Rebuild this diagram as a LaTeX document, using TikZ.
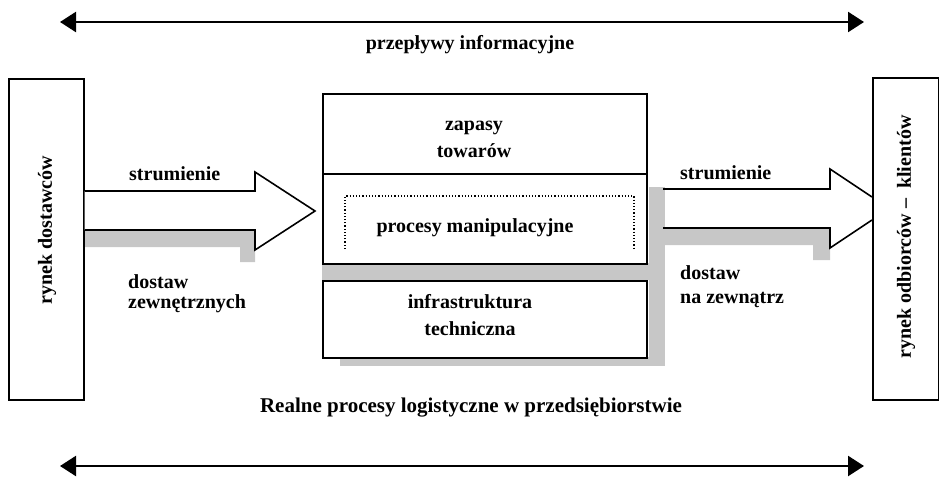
\documentclass[tikz,border=0pt]{standalone}
\usepackage{fontspec}
\setmainfont{Liberation Serif}
\usetikzlibrary{arrows.meta}
\begin{document}
\begin{tikzpicture}[x=1pt,y=-1pt,
  lbl/.style={font=\fontsize{20}{27}\selectfont\bfseries, inner sep=0pt},
  box/.style={draw, line width=1.6pt, inner sep=0pt},
  shade/.style={fill=black!22},
  bigarrow/.style={draw, line width=1.6pt, line join=miter},
  info/.style={line width=2.4pt, {Triangle[length=16pt,width=20pt]}-{Triangle[length=16pt,width=20pt]}}]
\useasboundingbox (0,0) rectangle (939,477);

% information flows
\coordinate (iL) at (60,22);
\coordinate (iR) at (864,22);
\draw[info] (iL) -- (iR);
\node[lbl] (info) at (470,45) {przepływy informacyjne};

% shadows
\fill[shade] (649,187) rectangle (665,366);
\fill[shade] (322,263) rectangle (665,280);
\fill[shade] (340,357) rectangle (665,366);
\fill[shade] (83,230) -- (255,230) -- (255,262) -- (240,262) -- (240,247) -- (83,247) -- cycle;
\fill[shade] (663,228) -- (830,228) -- (830,260) -- (813,260) -- (813,245) -- (663,245) -- cycle;

% side boxes
\node[box, minimum width=75pt, minimum height=321pt, anchor=north west] (lbox) at (8,78) {};
\node[lbl, rotate=90] (ltxt) at (47,230) {rynek dostawców};
\node[box, minimum width=66pt, minimum height=322pt, anchor=north west] (rbox) at (872,77) {};
\node[lbl, rotate=90] (rtxt) at (906,237) {rynek odbiorców –\ \ klientów};

% centre boxes
\node[box, fill=white, minimum width=324pt, minimum height=80pt, anchor=north west] (ctop) at (322,93) {};
\node[box, fill=white, minimum width=324pt, minimum height=90pt, anchor=north west] (cmid) at (322,173) {};
\node[box, fill=white, minimum width=324pt, minimum height=77pt, anchor=north west] (cbot) at (322,280) {};
\node[lbl, align=center] (ttop) at (474,139) {zapasy\\towarów};
\draw[dotted, line width=1.2pt] (345,249) |- (634,196) -- (634,249);
\node[lbl] (tmid) at (475,228) {procesy manipulacyjne};
\node[lbl, align=center] (tbot) at (470,315) {infrastruktura\\techniczna};

% block arrows
\draw[bigarrow, fill=white] (lbox.east |- 0,191) -- (255,191) -- (255,172) -- (315,211)
  -- (255,250) -- (255,230) -- (lbox.east |- 0,230);
\draw[bigarrow] (663,189) -- (830,189) -- (830,169) -- (rbox.west |- 0,197);
\draw[bigarrow] (rbox.west |- 0,220) -- (830,248) -- (830,228) -- (663,228);

% flow labels
\node[lbl, anchor=west] (s1) at (129,174) {strumienie};
\node[lbl, anchor=west] (d1) at (128,282) {dostaw};
\node[lbl, anchor=west] (z1) at (128,304) {zewnętrznych};
\node[lbl, anchor=west] (s2) at (680,173) {strumienie};
\node[lbl, anchor=west] (d2) at (680,273) {dostaw};
\node[lbl, anchor=west] (z2) at (680,300) {na zewnątrz};

% real processes
\node[lbl, font=\fontsize{21}{25}\selectfont\bfseries] (real) at (471,408) {Realne procesy logistyczne w przedsiębiorstwie};
\coordinate (rL) at (60,466);
\coordinate (rR) at (864,466);
\draw[info] (rL) -- (rR);
\end{tikzpicture}
\end{document}
